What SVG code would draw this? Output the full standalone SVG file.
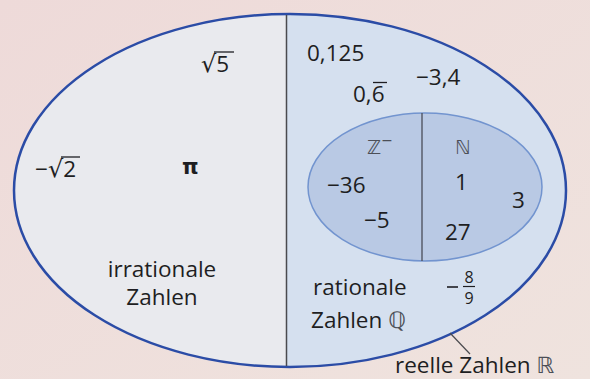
<svg xmlns="http://www.w3.org/2000/svg" width="590" height="379" viewBox="0 0 590 379">
<defs>
<linearGradient id="bg" x1="0" y1="0" x2="1" y2="1">
<stop offset="0" stop-color="#eedad9"/>
<stop offset="1" stop-color="#efe3de"/>
</linearGradient>
<clipPath id="outerClip"><ellipse cx="290" cy="190.5" rx="276" ry="176.5"/></clipPath>
</defs>
<style>
text{font-family:"Open Sans","Liberation Sans",sans-serif;font-size:22.5px;fill:#1e1e22}
.bb{font-family:"DejaVu Sans",sans-serif;fill:#4c4f57}
.sm{font-size:16px}
.ov{stroke:#1e1e22;stroke-width:1.3}
</style>
<rect width="590" height="379" fill="url(#bg)"/>
<g id="reelle-zahlen">
<g clip-path="url(#outerClip)">
<rect x="0" y="0" width="287" height="379" fill="#e9eaee"/>
<rect x="287" y="0" width="303" height="379" fill="#d5e0ef"/>
</g>
<ellipse cx="290" cy="190.5" rx="276" ry="176.5" fill="none" stroke="#2b4ca6" stroke-width="2.5"/>
<text x="395" y="373">reelle Zahlen <tspan class="bb">ℝ</tspan></text>
</g>
<g id="connectors">
<line x1="286.5" y1="15" x2="286.5" y2="366" stroke="#4a4a4e" stroke-width="1.5"/>
<line x1="450" y1="333" x2="470" y2="354" stroke="#4a4a4e" stroke-width="1.2"/>
</g>
<g id="irrationale-zahlen">
<text x="201" y="72"><tspan style="font-family:'DejaVu Sans',sans-serif;font-size:24px">√</tspan>5</text>
<line class="ov" x1="214" y1="52" x2="234" y2="52"/>
<text x="35" y="177">−<tspan style="font-family:'DejaVu Sans',sans-serif;font-size:24px">√</tspan>2</text>
<line class="ov" x1="61" y1="157" x2="80" y2="157"/>
<text x="182" y="174" style="font-family:'DejaVu Sans',sans-serif;font-weight:bold;font-size:21px">π</text>
<text x="162" y="277" text-anchor="middle">irrationale</text>
<text x="162" y="305" text-anchor="middle">Zahlen</text>
</g>
<g id="rationale-zahlen">
<text x="307" y="61">0,125</text>
<text x="416" y="85">−3,4</text>
<text x="353" y="102">0,6</text>
<line class="ov" x1="373" y1="82.5" x2="387" y2="82.5"/>
<text x="313" y="295">rationale</text>
<text x="311" y="328">Zahlen <tspan class="bb">ℚ</tspan></text>
<line x1="447" y1="287" x2="458" y2="287" stroke="#1e1e22" stroke-width="1.6"/>
<line x1="463" y1="286.5" x2="475" y2="286.5" stroke="#1e1e22" stroke-width="1.2"/>
<text class="sm" x="469" y="283" text-anchor="middle">8</text>
<text class="sm" x="469" y="304" text-anchor="middle">9</text>
</g>
<g id="ganze-zahlen">
<ellipse cx="425" cy="187" rx="117" ry="74" fill="#b9c9e4" stroke="#7294cf" stroke-width="1.5"/>
<line x1="422" y1="113" x2="422" y2="261" stroke="#4a4d58" stroke-width="1.3"/>
</g>
<g id="negative-ganze-zahlen">
<text class="bb" x="367" y="154" style="font-size:19px">ℤ<tspan dy="-9" style="font-size:14px">−</tspan></text>
<text x="327" y="193">−36</text>
<text x="364" y="228">−5</text>
</g>
<g id="natuerliche-zahlen">
<text class="bb" x="455" y="154" style="font-size:19px">ℕ</text>
<text x="455" y="190">1</text>
<text x="512" y="208">3</text>
<text x="445" y="240">27</text>
</g>
</svg>
